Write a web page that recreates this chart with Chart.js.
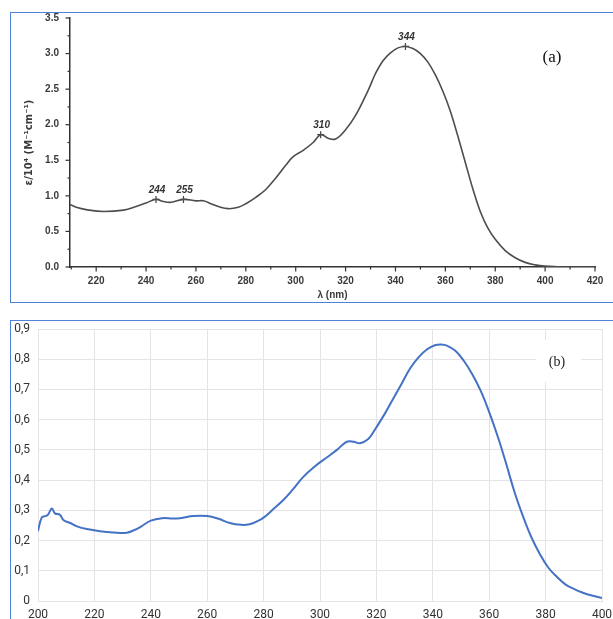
<!DOCTYPE html>
<html>
<head>
<meta charset="utf-8">
<script src="https://cdn.jsdelivr.net/npm/chart.js@4.4.0/dist/chart.umd.min.js"></script>
<style>
  html, body { margin: 0; padding: 0; background: #fff; }
  body { width: 613px; height: 619px; overflow: hidden; position: relative; }
  canvas { position: absolute; left: 0; }
  #chartA { top: 0; }
  #chartB { top: 310px; }
  .frame { position: absolute; box-sizing: border-box; border: 0 solid #4f81d6; pointer-events: none; }
  #frameA { left: 10px; top: 12px; width: 640px; height: 291px; border-width: 1.5px 0 1.5px 1.5px; }
  #frameB { left: 10px; top: 320px; width: 640px; height: 400px; border-width: 1.5px 0 0 1.5px; }
</style>
</head>
<body>
<canvas id="chartA" width="613" height="302"></canvas>
<canvas id="chartB" width="613" height="309"></canvas>
<div class="frame" id="frameA"></div>
<div class="frame" id="frameB"></div>
<script>
// (a) molar absorptivity, eps / 10^4 (M-1 cm-1)
const nmA = [209.5, 212, 217, 223, 231, 236, 240, 244, 247, 250, 255, 260, 263, 266, 269, 273, 277, 280, 284, 288, 292, 296, 299, 303, 307, 310, 313, 316, 320, 324, 329, 332, 335, 338, 341, 344, 347, 350, 353, 356, 359, 362, 365, 368, 371, 374, 377, 380, 384, 388, 392, 396, 400, 405, 410, 420];
const epsA = [0.88, 0.84, 0.80, 0.78, 0.80, 0.85, 0.90, 0.95, 0.92, 0.91, 0.95, 0.93, 0.93, 0.89, 0.85, 0.82, 0.84, 0.89, 0.98, 1.09, 1.25, 1.43, 1.55, 1.64, 1.75, 1.86, 1.81, 1.80, 1.93, 2.13, 2.48, 2.72, 2.90, 3.01, 3.08, 3.10, 3.07, 3.00, 2.88, 2.70, 2.47, 2.19, 1.84, 1.47, 1.10, 0.78, 0.55, 0.39, 0.23, 0.13, 0.065, 0.03, 0.012, 0.004, 0.0, 0.0];
const peakNmA = [244, 255, 310, 344];
const peakEpsA = [0.95, 0.95, 1.86, 3.10];
const xTicksA = [220, 240, 260, 280, 300, 320, 340, 360, 380, 400, 420];
const xMinorA = [210, 230, 250, 270, 290, 310, 330, 350, 370, 390, 410];
const yTicksA = [0, 0.5, 1.0, 1.5, 2.0, 2.5, 3.0, 3.5];
const yMinorA = [0.25, 0.75, 1.25, 1.75, 2.25, 2.75, 3.25];

// (b) absorbance
const nmB = [200, 201.3, 202.5, 203.5, 204.9, 206, 207.8, 209, 211.4, 213.8, 217.3, 222, 226.7, 231.5, 234, 236.5, 240, 244, 248, 251, 255, 260, 264, 268, 272, 275, 278, 280, 283, 287, 290, 294, 297.7, 302.4, 306, 309.5, 312, 314.2, 317, 319, 323, 326, 329, 332, 335, 338, 341, 343, 345, 348, 351, 354, 357, 360, 363, 366, 369, 372, 375, 378, 381, 384, 387, 390, 393, 396, 400];
const absB = [0.232, 0.276, 0.281, 0.285, 0.306, 0.29, 0.285, 0.268, 0.258, 0.247, 0.238, 0.231, 0.227, 0.226, 0.234, 0.246, 0.266, 0.274, 0.273, 0.275, 0.281, 0.281, 0.272, 0.258, 0.252, 0.254, 0.265, 0.276, 0.30, 0.334, 0.365, 0.41, 0.442, 0.475, 0.50, 0.527, 0.527, 0.522, 0.535, 0.56, 0.62, 0.67, 0.72, 0.77, 0.807, 0.833, 0.847, 0.849, 0.845, 0.828, 0.795, 0.75, 0.695, 0.625, 0.545, 0.455, 0.36, 0.28, 0.21, 0.155, 0.11, 0.08, 0.055, 0.04, 0.028, 0.019, 0.01];
const xTicksB = [200, 220, 240, 260, 280, 300, 320, 340, 360, 380, 400];
const yTicksB = [0, 0.1, 0.2, 0.3, 0.4, 0.5, 0.6, 0.7, 0.8, 0.9];

const toPts = (xs, ys) => xs.map((v, i) => ({ x: v, y: ys[i] }));
const axisFont = { family: 'Liberation Sans', size: 10, weight: 'bold' };

// minor/major tick marks for (a), placed through the scales
const tickMarksA = {
  id: 'tickMarksA',
  afterDraw(chart) {
    const { ctx, scales: { x, y } } = chart;
    ctx.save();
    ctx.strokeStyle = '#333';
    ctx.lineWidth = 1.2;
    const axisY = x.top, axisX = y.right;
    const mark = (px, py, dx, dy) => { ctx.beginPath(); ctx.moveTo(px, py); ctx.lineTo(px + dx, py + dy); ctx.stroke(); };
    xTicksA.forEach(v => mark(x.getPixelForValue(v), axisY, 0, 4.5));
    xMinorA.forEach(v => mark(x.getPixelForValue(v), axisY, 0, 2.5));
    yTicksA.forEach(v => mark(axisX, y.getPixelForValue(v), -4.5, 0));
    yMinorA.forEach(v => mark(axisX, y.getPixelForValue(v), -2.5, 0));
    ctx.restore();
  }
};

const peakLabelsA = {
  id: 'peakLabelsA',
  afterDatasetsDraw(chart) {
    const { ctx } = chart;
    const pts = chart.getDatasetMeta(1).data;
    ctx.save();
    ctx.fillStyle = '#333';
    ctx.font = 'italic bold 10px "Liberation Sans"';
    ctx.textAlign = 'center';
    ctx.textBaseline = 'middle';
    pts.forEach((p, i) => ctx.fillText(String(peakNmA[i]), p.x + 1, p.y - 9));
    ctx.font = '17px "Liberation Serif"';
    ctx.fillStyle = '#111';
    ctx.fillText('(a)', 552, 58);
    ctx.restore();
  }
};

const panelLabelB = {
  id: 'panelLabelB',
  afterDraw(chart) {
    const { ctx } = chart;
    ctx.save();
    ctx.fillStyle = '#fff';
    ctx.fillRect(536, 30, 45, 42);
    ctx.fillStyle = '#222';
    ctx.font = '14px "Liberation Serif"';
    ctx.textAlign = 'center';
    ctx.textBaseline = 'middle';
    ctx.fillText('(b)', 557, 52);
    ctx.restore();
  }
};

new Chart(document.getElementById('chartA'), {
  type: 'scatter',
  data: {
    datasets: [
      { data: toPts(nmA, epsA), showLine: true, borderColor: '#4d4d4d', borderWidth: 1.6,
        pointRadius: 0, tension: 0.4 },
      { data: toPts(peakNmA, peakEpsA), showLine: false, pointStyle: 'cross', pointRadius: 3.5,
        borderColor: '#444', borderWidth: 1.2 }
    ]
  },
  options: {
    responsive: false,
    animation: false,
    devicePixelRatio: 1,
    layout: { padding: { top: 18, right: 18, left: 0, bottom: 0 } },
    plugins: { legend: { display: false }, tooltip: { enabled: false } },
    scales: {
      x: {
        type: 'linear', min: 209.5, max: 420,
        afterBuildTicks: s => { s.ticks = xTicksA.map(v => ({ value: v })); },
        afterFit: s => { s.height = 35; s.paddingLeft = 0; s.paddingRight = 0; },
        grid: { display: false, drawTicks: false },
        border: { display: true, color: '#333', width: 1.5 },
        ticks: { autoSkip: false, maxRotation: 0, padding: 8, color: '#3a3a3a', font: axisFont },
        title: { display: true, text: 'λ (nm)', color: '#3a3a3a', font: axisFont, padding: { top: 0, bottom: 1 } }
      },
      y: {
        type: 'linear', min: 0, max: 3.5,
        afterBuildTicks: s => { s.ticks = yTicksA.map(v => ({ value: v })); },
        afterFit: s => { s.width = 70; s.paddingTop = 0; s.paddingBottom = 0; },
        grid: { display: false, drawTicks: false },
        border: { display: true, color: '#333', width: 1.5 },
        ticks: { padding: 11, color: '#3a3a3a', font: axisFont, callback: v => v.toFixed(1) },
        title: { display: true, text: 'ε/10⁴ (M⁻¹cm⁻¹)', color: '#3a3a3a',
                 font: { family: 'DejaVu Sans', size: 10, weight: 'bold' }, padding: { top: 23, bottom: 0 } }
      }
    }
  },
  plugins: [tickMarksA, peakLabelsA]
});

new Chart(document.getElementById('chartB'), {
  type: 'scatter',
  data: {
    datasets: [
      { data: toPts(nmB, absB), showLine: true, borderColor: '#4472c4', borderWidth: 2,
        pointRadius: 0, tension: 0.4 }
    ]
  },
  options: {
    responsive: false,
    animation: false,
    devicePixelRatio: 1,
    layout: { padding: { top: 19, right: 11, left: 0, bottom: 0 } },
    plugins: { legend: { display: false }, tooltip: { enabled: false } },
    scales: {
      x: {
        type: 'linear', min: 200, max: 400,
        afterBuildTicks: s => { s.ticks = xTicksB.map(v => ({ value: v })); },
        afterFit: s => { s.height = 18; s.paddingLeft = 0; s.paddingRight = 0; },
        grid: { color: '#e6e2e6', drawTicks: false },
        border: { color: '#e6e2e6' },
        ticks: { autoSkip: false, maxRotation: 0, padding: 7, color: '#333', font: { family: 'Roboto', size: 12 } }
      },
      y: {
        type: 'linear', min: 0, max: 0.9,
        afterBuildTicks: s => { s.ticks = yTicksB.map(v => ({ value: v })); },
        afterFit: s => { s.width = 38; s.paddingTop = 0; s.paddingBottom = 0; },
        grid: { color: '#e6e2e6', drawTicks: false },
        border: { color: '#e6e2e6' },
        ticks: { padding: 8, color: '#333', font: { family: 'Roboto', size: 12 },
                 callback: v => v === 0 ? '0' : v.toFixed(1).replace('.', ',') }
      }
    }
  },
  plugins: [panelLabelB]
});
</script>
</body>
</html>
